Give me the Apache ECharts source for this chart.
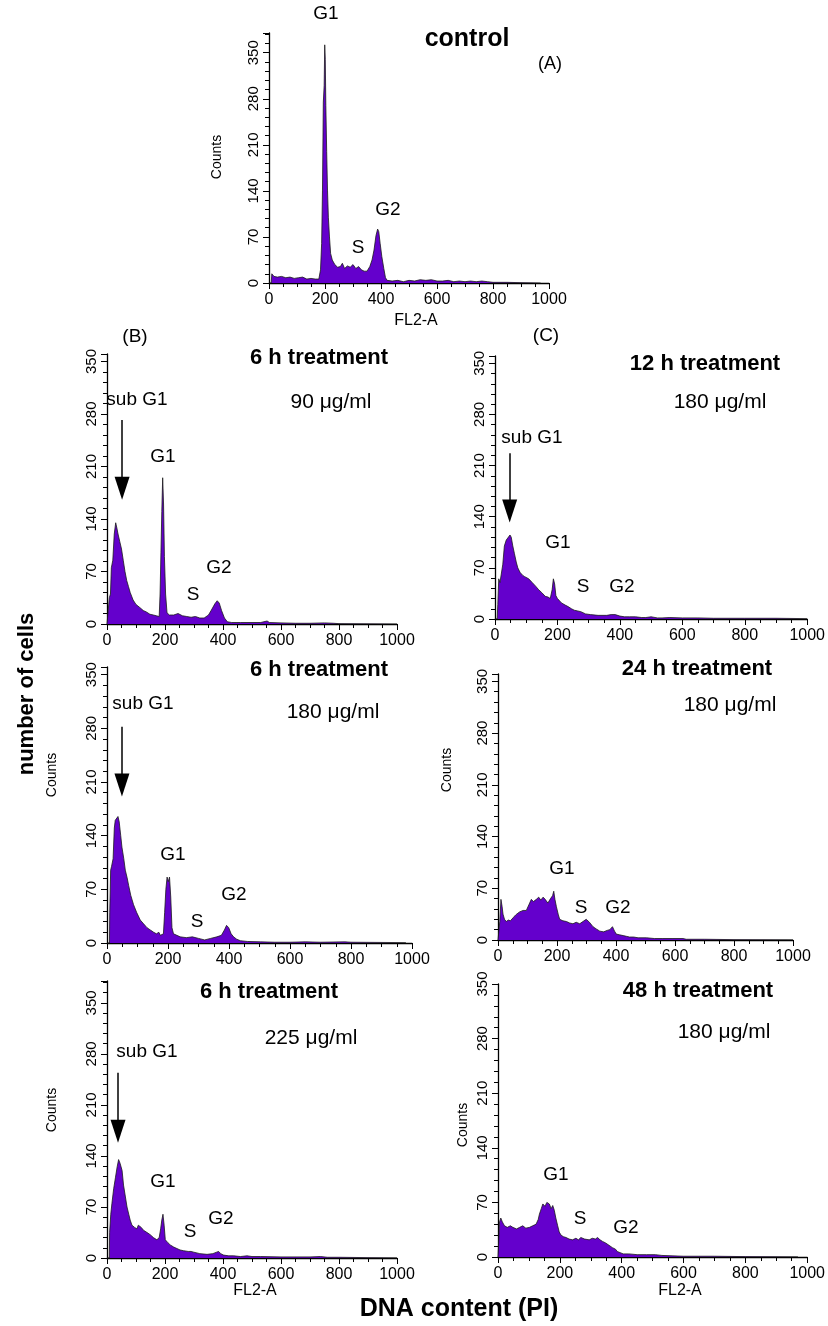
<!DOCTYPE html>
<html>
<head>
<meta charset="utf-8">
<script src="https://cdn.jsdelivr.net/npm/echarts@6/dist/echarts.min.js"></script>
<style>
  body { margin: 0; background: #fff; }
  #main { width: 828px; height: 1326px; }
</style>
</head>
<body>
<div id="main"></div>
<script>
// histogram data: [FL2-A channel, counts]
const controlHist = [[0,0],[8,0],[10,14],[14,15],[18,10],[30,9],[45,10],[60,8],[75,9],[90,7],[105,8],[120,9],[135,6],[150,7],[165,6],[178,6],[184,20],[188,60],[191,140],[194,275],[197,300],[199,362],[201,340],[203,270],[206,200],[209,140],[212,100],[216,70],[220,45],[226,35],[235,28],[245,24],[255,25],[262,30],[270,22],[280,26],[290,24],[300,28],[310,22],[320,25],[330,20],[340,18],[350,18],[360,25],[368,35],[375,50],[382,72],[388,82],[392,78],[397,60],[403,40],[410,22],[416,8],[422,4],[440,3],[460,4],[480,2],[500,4],[520,3],[540,5],[560,4],[580,5],[600,3],[620,3],[640,4],[660,2],[680,3],[700,2],[720,3],[740,2],[760,3],[780,2],[800,1],[850,1],[900,0.5],[970,0]];

const h6dose90Hist = [[0,0],[6,0],[8,35],[12,40],[15,75],[20,85],[25,120],[30,135],[34,128],[38,120],[44,110],[50,100],[56,85],[62,70],[68,58],[74,50],[80,42],[90,32],[100,26],[113,22],[125,18],[136,16],[148,13],[160,12],[170,11],[180,10],[183,40],[186,95],[189,150],[192,195],[195,160],[198,90],[202,40],[207,15],[215,12],[230,12],[245,14],[260,11],[275,10],[290,9],[305,10],[320,8],[335,8],[350,12],[362,20],[372,27],[380,31],[387,28],[395,18],[405,8],[415,3],[430,2],[460,2],[500,2],[530,2],[552,4],[560,2],[600,1.5],[650,1],[700,1],[750,1.5],[780,1],[800,0.5],[1000,0]];

const h12dose180Hist = [[0,0],[7,0],[9,20],[12,55],[16,50],[20,48],[25,75],[30,100],[36,108],[42,110],[48,115],[52,112],[57,100],[62,90],[68,78],[73,70],[80,64],[88,60],[95,58],[100,60],[108,55],[119,50],[130,45],[140,40],[150,36],[161,31],[170,30],[177,28],[183,40],[187,55],[191,48],[195,32],[200,28],[213,22],[225,19],[234,17],[245,14],[254,12],[265,11],[275,10],[290,7],[306,6],[330,5],[358,5],[372,6],[385,6],[400,4],[415,3],[431,3],[450,3],[470,2],[483,2],[500,3],[520,1.5],[535,1.5],[560,2],[600,1.5],[650,1.5],[700,1],[800,1],[900,1],[1000,0.5]];

const h6dose180Hist = [[0,0],[8,0],[9,40],[12,95],[15,100],[20,110],[24,150],[27,160],[32,158],[36,165],[40,158],[45,140],[49,125],[55,110],[60,95],[66,85],[71,75],[78,62],[87,50],[97,40],[109,30],[120,25],[131,20],[142,17],[153,14],[162,12],[170,14],[175,10],[185,12],[189,40],[193,70],[197,86],[201,80],[205,86],[209,60],[213,20],[218,12],[224,10],[240,8],[260,7],[280,8],[300,6],[320,4],[340,6],[360,8],[375,10],[385,17],[392,23],[399,20],[407,12],[415,8],[425,5],[437,3],[460,2],[503,1.5],[550,1],[600,1],[650,1.5],[700,1],[780,1.5],[800,1],[980,0.5]];

const h24dose180Hist = [[0,0],[5,0],[6,25],[10,55],[14,45],[17,35],[22,28],[28,25],[35,27],[42,26],[51,30],[60,34],[73,38],[85,40],[96,40],[105,48],[113,55],[120,52],[130,55],[138,58],[145,54],[153,58],[160,55],[169,50],[178,56],[185,60],[189,66],[193,55],[198,45],[204,35],[209,28],[220,26],[232,25],[243,23],[254,22],[265,24],[277,22],[288,25],[299,28],[310,24],[322,18],[333,15],[345,12],[358,11],[370,13],[379,14],[388,18],[395,12],[401,8],[412,7],[424,6],[435,5],[446,4],[460,4],[475,3],[503,3],[530,2],[559,2],[590,2],[627,2],[638,1],[700,1],[800,0.5],[1000,0.3]];

const h6dose225Hist = [[0,0],[8,0],[9,35],[13,60],[17,75],[23,95],[29,110],[35,125],[40,135],[45,130],[52,120],[57,100],[63,85],[69,70],[75,60],[80,52],[86,45],[95,42],[103,40],[108,45],[113,46],[118,42],[126,38],[138,35],[149,32],[160,28],[172,25],[180,28],[185,40],[189,52],[193,60],[197,45],[201,25],[210,21],[218,18],[230,15],[241,13],[252,11],[264,10],[280,9],[290,9],[299,8],[320,6],[345,5],[365,6],[378,8],[385,9],[392,6],[402,4],[420,3],[437,3],[460,2],[483,3],[500,2],[529,2],[600,1.5],[700,1.5],[736,2],[760,1],[800,1],[900,0.5],[1000,0.3]];

const h48dose180Hist = [[0,0],[4,0],[5,45],[9,50],[14,45],[21,40],[30,38],[40,40],[48,38],[60,36],[70,38],[80,40],[90,37],[102,38],[112,40],[123,42],[130,48],[134,55],[140,62],[145,68],[152,65],[158,70],[166,68],[172,62],[177,66],[182,60],[187,50],[193,40],[198,32],[204,28],[212,26],[220,25],[230,23],[241,22],[252,24],[260,22],[268,25],[280,23],[295,22],[305,24],[315,23],[322,25],[330,22],[338,20],[348,18],[359,15],[370,12],[380,10],[386,7],[391,5],[405,4],[423,4],[450,3],[480,3],[509,3],[530,2],[563,1.5],[600,1],[700,1],[800,0.5],[970,0.3]];

// sub G1 arrows: [channel, top count, arrow-head centre count]
const arrowB1 = [52, 272, 181];
const arrowC1 = [47, 227, 148];
const arrowB2 = [49, 282, 206];
const arrowB3 = [38, 254, 174];

const FONT = '"Liberation Sans", Arial, Helvetica, sans-serif';
const PURPLE = '#6400cc';

// box = [left, top, width, height] in px
const panels = [
  { hist: controlHist,    yMax: 380, box: [269, 33, 280, 250] },
  { hist: h6dose90Hist,   yMax: 360, box: [107, 354, 290, 270], arrow: arrowB1 },
  { hist: h12dose180Hist, yMax: 360, box: [495, 356, 321, 263], arrow: arrowC1 },
  { hist: h6dose180Hist,  yMax: 360, box: [107, 667, 305, 276], arrow: arrowB2 },
  { hist: h24dose180Hist, yMax: 360, box: [498, 674, 295, 266] },
  { hist: h6dose225Hist,  yMax: 380, box: [107, 981, 290, 277], arrow: arrowB3 },
  { hist: h48dose180Hist, yMax: 350, box: [498, 984, 311, 273] }
];

function txt(s, x, y, size, bold, rot) {
  return {
    type: 'text', x: x, y: y, rotation: rot || 0, silent: true, z: 100,
    style: {
      text: s, fill: '#000',
      font: (bold ? 'bold ' : '') + size + 'px ' + FONT,
      textAlign: 'center', textVerticalAlign: 'middle',
      align: 'center', verticalAlign: 'middle'
    }
  };
}

const R = Math.PI / 2;
const texts = [
  txt('number of cells', 27, 694, 22, true, R),
  txt('DNA content (PI)', 459, 1309, 25, true),
  // A
  txt('G1', 326, 14, 19), txt('control', 467, 39, 25, true), txt('(A)', 550, 64, 18),
  txt('S', 358, 248, 19), txt('G2', 388, 210, 19), txt('Counts', 217, 157, 14, false, R),
  txt('FL2-A', 416, 321, 16),
  // B1
  txt('(B)', 135, 337, 19), txt('6 h treatment', 319, 358, 22, true), txt('90 μg/ml', 331, 402, 21),
  txt('sub G1', 137, 400, 19), txt('G1', 163, 457, 19), txt('S', 193, 595, 19), txt('G2', 219, 568, 19),
  // C1
  txt('(C)', 546, 336, 19), txt('12 h treatment', 705, 364, 22, true), txt('180 μg/ml', 720, 402, 21),
  txt('sub G1', 532, 438, 19), txt('G1', 558, 543, 19), txt('S', 583, 587, 19), txt('G2', 622, 587, 19),
  // B2
  txt('6 h treatment', 319, 670, 22, true), txt('180 μg/ml', 333, 712, 21),
  txt('sub G1', 143, 704, 19), txt('G1', 173, 855, 19), txt('S', 197, 922, 19), txt('G2', 234, 895, 19),
  txt('Counts', 52, 775, 14, false, R),
  // C2
  txt('24 h treatment', 697, 669, 22, true), txt('180 μg/ml', 730, 705, 21),
  txt('G1', 562, 869, 19), txt('S', 581, 908, 19), txt('G2', 618, 908, 19),
  txt('Counts', 447, 770, 14, false, R),
  // B3
  txt('6 h treatment', 269, 992, 22, true), txt('225 μg/ml', 311, 1038, 21),
  txt('sub G1', 147, 1052, 19), txt('G1', 163, 1182, 19), txt('G2', 221, 1219, 19), txt('S', 190, 1232, 19),
  txt('Counts', 52, 1110, 14, false, R), txt('FL2-A', 255, 1291, 16),
  // C3
  txt('48 h treatment', 698, 991, 22, true), txt('180 μg/ml', 724, 1032, 21),
  txt('G1', 556, 1175, 19), txt('S', 580, 1219, 19), txt('G2', 626, 1228, 19),
  txt('Counts', 463, 1125, 14, false, R), txt('FL2-A', 680, 1291, 16)
];

const axisCommon = {
  axisLine: { lineStyle: { color: '#000', width: 1.3 } },
  axisTick: { length: 6, lineStyle: { color: '#000', width: 1 } },
  splitLine: { show: false }
};

const grids = [], xAxes = [], yAxes = [], series = [];
panels.forEach(function (p, i) {
  grids.push({ left: p.box[0], top: p.box[1], width: p.box[2], height: p.box[3] });
  xAxes.push(Object.assign({}, axisCommon, {
    type: 'value', gridIndex: i, min: 0, max: 1000, interval: 200,
    minorTick: { show: true, splitNumber: 4, length: 4, lineStyle: { color: '#000' } },
    axisLabel: {
      fontSize: 16, fontFamily: FONT, color: '#000', margin: 9,
      formatter: function (v) { return String(v); }
    }
  }));
  yAxes.push(Object.assign({}, axisCommon, {
    type: 'value', gridIndex: i, min: 0, max: p.yMax, interval: 70,
    minorTick: { show: true, splitNumber: 5, length: 4, lineStyle: { color: '#000' } },
    axisLabel: {
      fontSize: 15, fontFamily: FONT, color: '#000', rotate: 90, margin: 8,
      formatter: function (v) { return v % 70 === 0 ? String(v) : ''; }
    }
  }));
  const s = {
    type: 'line', xAxisIndex: i, yAxisIndex: i, data: p.hist,
    symbol: 'none', animation: false, silent: true,
    lineStyle: { color: '#1a1a1a', width: 0.8 },
    areaStyle: { color: PURPLE, opacity: 1 }
  };
  if (p.arrow) {
    s.markLine = {
      silent: true, animation: false,
      symbol: ['none', 'triangle'],
      label: { show: false },
      lineStyle: { color: '#000', width: 1.5, type: 'solid' },
      data: [[
        { coord: [p.arrow[0], p.arrow[1]], symbol: 'none' },
        { coord: [p.arrow[0], p.arrow[2]], symbol: 'triangle', symbolSize: [15, 23] }
      ]]
    };
  }
  series.push(s);
});

const chart = echarts.init(document.getElementById('main'));
chart.setOption({
  animation: false,
  backgroundColor: '#fff',
  grid: grids,
  xAxis: xAxes,
  yAxis: yAxes,
  series: series,
  graphic: texts
});
</script>
</body>
</html>
